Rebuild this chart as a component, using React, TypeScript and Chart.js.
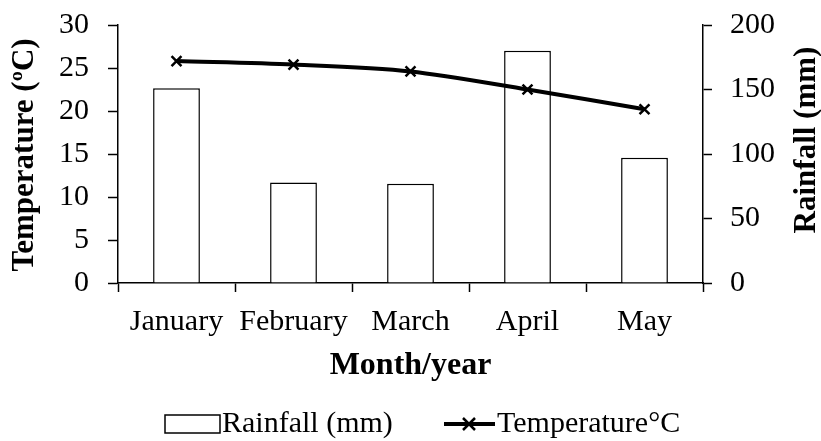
import React, { useEffect, useRef } from "react";
import { Chart, registerables } from "chart.js";

Chart.register(...registerables);

const months = ["January", "February", "March", "April", "May"];
const rainfall = [151, 78, 77, 180, 97];
const temperature = [25.8, 25.4, 24.6, 22.5, 20.2];
const tempTicks = [0, 5, 10, 15, 20, 25, 30];
const rainTicks = [0, 50, 100, 150, 200];

const SERIF = "'Liberation Serif', 'Times New Roman', serif";

const customPlugin = {
  id: "custom",
  afterDraw(chart: any) {
    const ctx = chart.ctx;
    // axis titles
    ctx.save();
    ctx.font = `bold 31px ${SERIF}`;
    ctx.fillStyle = "#000";
    ctx.textAlign = "center";
    ctx.textBaseline = "middle";
    ctx.translate(25, 155);
    ctx.rotate(-Math.PI / 2);
    ctx.fillText("Temperature (ºC)", 0, 0);
    ctx.restore();

    ctx.save();
    ctx.font = `bold 31px ${SERIF}`;
    ctx.fillStyle = "#000";
    ctx.textAlign = "center";
    ctx.textBaseline = "middle";
    ctx.translate(807, 140);
    ctx.rotate(-Math.PI / 2);
    ctx.fillText("Rainfall (mm)", 0, 0);
    ctx.restore();

    // legend
    ctx.save();
    const ly = 424;
    ctx.strokeStyle = "#000";
    ctx.lineWidth = 1.5;
    ctx.fillStyle = "#fff";
    ctx.fillRect(165, ly - 9, 55, 18);
    ctx.strokeRect(165, ly - 9, 55, 18);
    ctx.fillStyle = "#000";
    ctx.font = `30px ${SERIF}`;
    ctx.textAlign = "left";
    ctx.textBaseline = "middle";
    ctx.fillText("Rainfall (mm)", 222, ly);
    ctx.lineWidth = 4;
    ctx.beginPath();
    ctx.moveTo(444, ly);
    ctx.lineTo(495, ly);
    ctx.stroke();
    ctx.lineWidth = 2.5;
    const mx = 469, r = 6;
    ctx.beginPath();
    ctx.moveTo(mx - r, ly - r);
    ctx.lineTo(mx + r, ly + r);
    ctx.moveTo(mx - r, ly + r);
    ctx.lineTo(mx + r, ly - r);
    ctx.stroke();
    ctx.fillText("Temperature°C", 497, ly);
    ctx.restore();
  },
};

export default function App() {
  const ref = useRef<HTMLCanvasElement>(null);
  useEffect(() => {
    if (!ref.current) return;
    const chart = new Chart(ref.current, {
      type: "bar",
      data: {
        labels: months,
        datasets: [
          {
            type: "line",
            label: "Temperature°C",
            data: temperature,
            yAxisID: "yT",
            borderColor: "#000",
            borderWidth: 4,
            tension: 0.3,
            pointStyle: "crossRot",
            pointRadius: 7,
            pointBorderWidth: 2.5,
            pointBorderColor: "#000",
            pointBackgroundColor: "#000",
            order: 1,
          } as any,
          {
            type: "bar",
            label: "Rainfall (mm)",
            data: rainfall,
            yAxisID: "yR",
            backgroundColor: "#fff",
            borderColor: "#000",
            borderWidth: 1.5,
            barPercentage: 0.4,
            categoryPercentage: 1,
            order: 2,
          },
        ],
      },
      options: {
        animation: false,
        responsive: true,
        maintainAspectRatio: false,
        layout: { padding: { top: 25, bottom: 50, left: 0, right: 0 } },
        plugins: { legend: { display: false }, tooltip: { enabled: false } },
        scales: {
          x: {
            offset: true,
            grid: {
              display: true,
              drawOnChartArea: false,
              drawTicks: true,
              tickLength: 9,
              tickColor: "#000",
              tickWidth: 1.5,
              offset: true,
            },
            border: { display: true, color: "#000", width: 1.5 },
            ticks: {
              color: "#000",
              font: { family: SERIF, size: 30 },
              padding: 12,
              maxRotation: 0,
              autoSkip: false,
            },
            title: {
              display: true,
              text: "Month/year",
              color: "#000",
              font: { family: SERIF, size: 32, weight: "bold" },
              padding: { top: 4, bottom: 6 },
            },
            afterFit(scale: any) {
              scale.height = 108;
              scale.paddingLeft = 0;
              scale.paddingRight = 0;
            },
          },
          yT: {
            position: "left",
            min: 0,
            max: 30,
            afterBuildTicks(scale: any) {
              scale.ticks = tempTicks.map((v) => ({ value: v }));
            },
            grid: {
              drawOnChartArea: false,
              drawTicks: true,
              tickLength: 10,
              tickColor: "#000",
              tickWidth: 1.5,
            },
            border: { display: true, color: "#000", width: 1.5 },
            ticks: {
              color: "#000",
              font: { family: SERIF, size: 30 },
              padding: 19,
            },
            afterFit(scale: any) {
              scale.width = 118;
              scale.paddingTop = 0;
              scale.paddingBottom = 0;
            },
          },
          yR: {
            position: "right",
            min: 0,
            max: 200,
            afterBuildTicks(scale: any) {
              scale.ticks = rainTicks.map((v) => ({ value: v }));
            },
            grid: {
              drawOnChartArea: false,
              drawTicks: true,
              tickLength: 9,
              tickColor: "#000",
              tickWidth: 1.5,
            },
            border: { display: true, color: "#000", width: 1.5 },
            ticks: {
              color: "#000",
              font: { family: SERIF, size: 30 },
              padding: 18,
            },
            afterFit(scale: any) {
              scale.width = 118;
              scale.paddingTop = 0;
              scale.paddingBottom = 0;
            },
          },
        },
      },
      plugins: [customPlugin],
    });
    return () => chart.destroy();
  }, []);
  return (
    <div style={{ position: "fixed", left: 0, top: 0, width: 821, height: 441, background: "#fff" }}>
      <canvas ref={ref} />
    </div>
  );
}
